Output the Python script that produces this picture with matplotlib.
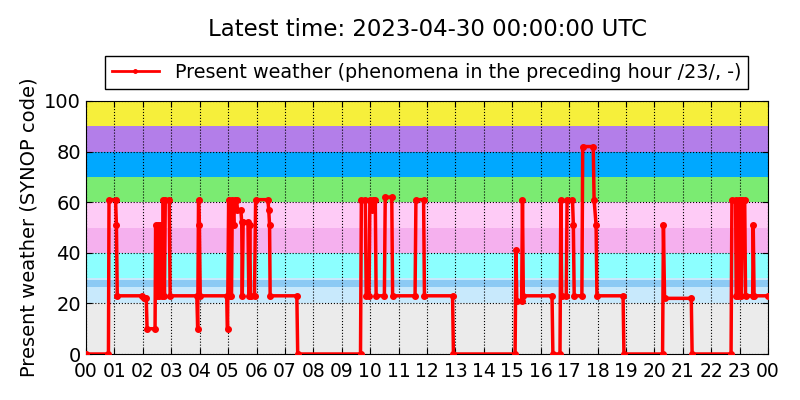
import matplotlib
matplotlib.use("Agg")
import matplotlib.pyplot as plt

# hours since 00 UTC and SYNOP present weather code
hours = [0.00, 0.79, 0.81, 1.04, 1.07, 1.10, 1.98, 2.04, 2.12, 2.15, 2.43, 2.45,
         2.50, 2.53, 2.58, 2.60, 2.66, 2.68, 2.72, 2.76, 2.79, 2.93, 2.96,
         3.90, 3.93, 3.96, 3.99, 4.02,
         4.95, 4.98, 5.02, 5.05, 5.12, 5.15, 5.20, 5.23, 5.30, 5.33,
         5.45, 5.48, 5.50, 5.53, 5.70, 5.73, 5.76, 5.79, 5.93, 5.97,
         6.40, 6.43, 6.46, 6.48,
         7.42, 7.45,
         9.66, 9.69, 9.83, 9.86, 9.96, 9.99, 10.06, 10.09, 10.18, 10.21,
         10.50, 10.53, 10.76, 10.79,
         11.58, 11.61, 11.88, 11.91,
         12.90, 12.93,
         15.10, 15.13, 15.16, 15.33, 15.36, 15.39,
         16.40, 16.43, 16.68, 16.71, 16.74, 16.90, 16.93, 17.12, 17.15, 17.18,
         17.45, 17.48, 17.85, 17.88, 17.95, 17.98,
         18.90, 18.93,
         20.29, 20.32, 20.36,
         21.30, 21.33,
         22.70, 22.73, 22.86, 22.88, 22.96, 22.98, 23.04, 23.06, 23.10,
         23.18, 23.21, 23.46, 23.48, 23.51, 24.00]
codes = [0, 0, 61, 61, 51, 23, 23, 22, 22, 10, 10, 51,
         23, 51, 23, 51, 51, 23, 61, 23, 61, 61, 23,
         23, 10, 61, 51, 23,
         23, 10, 61, 23, 23, 61, 51, 61, 61, 57,
         57, 52, 23, 52, 52, 23, 51, 23, 23, 61,
         61, 57, 51, 23,
         23, 0,
         0, 61, 61, 23, 23, 61, 57, 61, 61, 23,
         23, 62, 62, 23,
         23, 61, 61, 23,
         23, 0,
         0, 41, 21, 21, 61, 23,
         23, 0, 0, 61, 23, 23, 61, 61, 51, 23,
         23, 82, 82, 61, 51, 23,
         23, 0,
         0, 51, 22,
         22, 0,
         0, 61, 61, 23, 23, 61, 61, 23, 61,
         61, 23, 23, 51, 23, 23]

# background code bands
band_lo = [0, 20, 26.6, 29.2, 30, 40, 50, 60, 70, 80, 90]
band_hi = [20, 26.6, 29.2, 30, 40, 50, 60, 70, 80, 90, 100]
band_col = ['#ebebeb', '#c8e9fc', '#8ccaf4', '#c8e9fc', '#8cffff', '#f5b0ee',
            '#fecbf6', '#7beb72', '#00a8ff', '#b37ee9', '#f6ef3b']

tick_labels = ['%02d' % (h % 24) for h in range(25)]

fig = plt.figure(figsize=(8, 4), dpi=100)
ax = fig.add_axes([0.1075, 0.115, 0.8525, 0.6325])

for lo, hi, c in zip(band_lo, band_hi, band_col):
    ax.axhspan(lo, hi, color=c, lw=0, zorder=0)

ax.plot(hours, codes, color='red', lw=2.5, marker='o', ms=4,
        mec='red', zorder=3)

ax.set_xlim(0, 24)
ax.set_ylim(0, 100)
ax.set_xticks(range(25))
ax.set_xticklabels(tick_labels)
ax.set_yticks(range(0, 101, 20))
ax.tick_params(axis='x', labelsize=13.5, pad=6)
ax.tick_params(axis='y', labelsize=14)
ax.tick_params(direction='in', top=True, right=True, length=4, color='k')
ax.grid(True, linestyle=':', color='k', lw=0.8)
ax.set_axisbelow(False)

ax.set_ylabel('Present weather (SYNOP code)', fontsize=14)
ax.set_title('Latest time: 2023-04-30 00:00:00 UTC', fontsize=16.5, y=1.225)

leg_handle, = ax.plot([], [], color='red', lw=2, marker='.', ms=5)
fig.legend([leg_handle], ['Present weather (phenomena in the preceding hour /23/, -)'],
           loc='center', bbox_to_anchor=(0.533, 0.819), fontsize=13.8,
           fancybox=False, edgecolor='k', framealpha=1,
           borderpad=0.35, handlelength=2.5)

fig.savefig('out.png', dpi=100)
